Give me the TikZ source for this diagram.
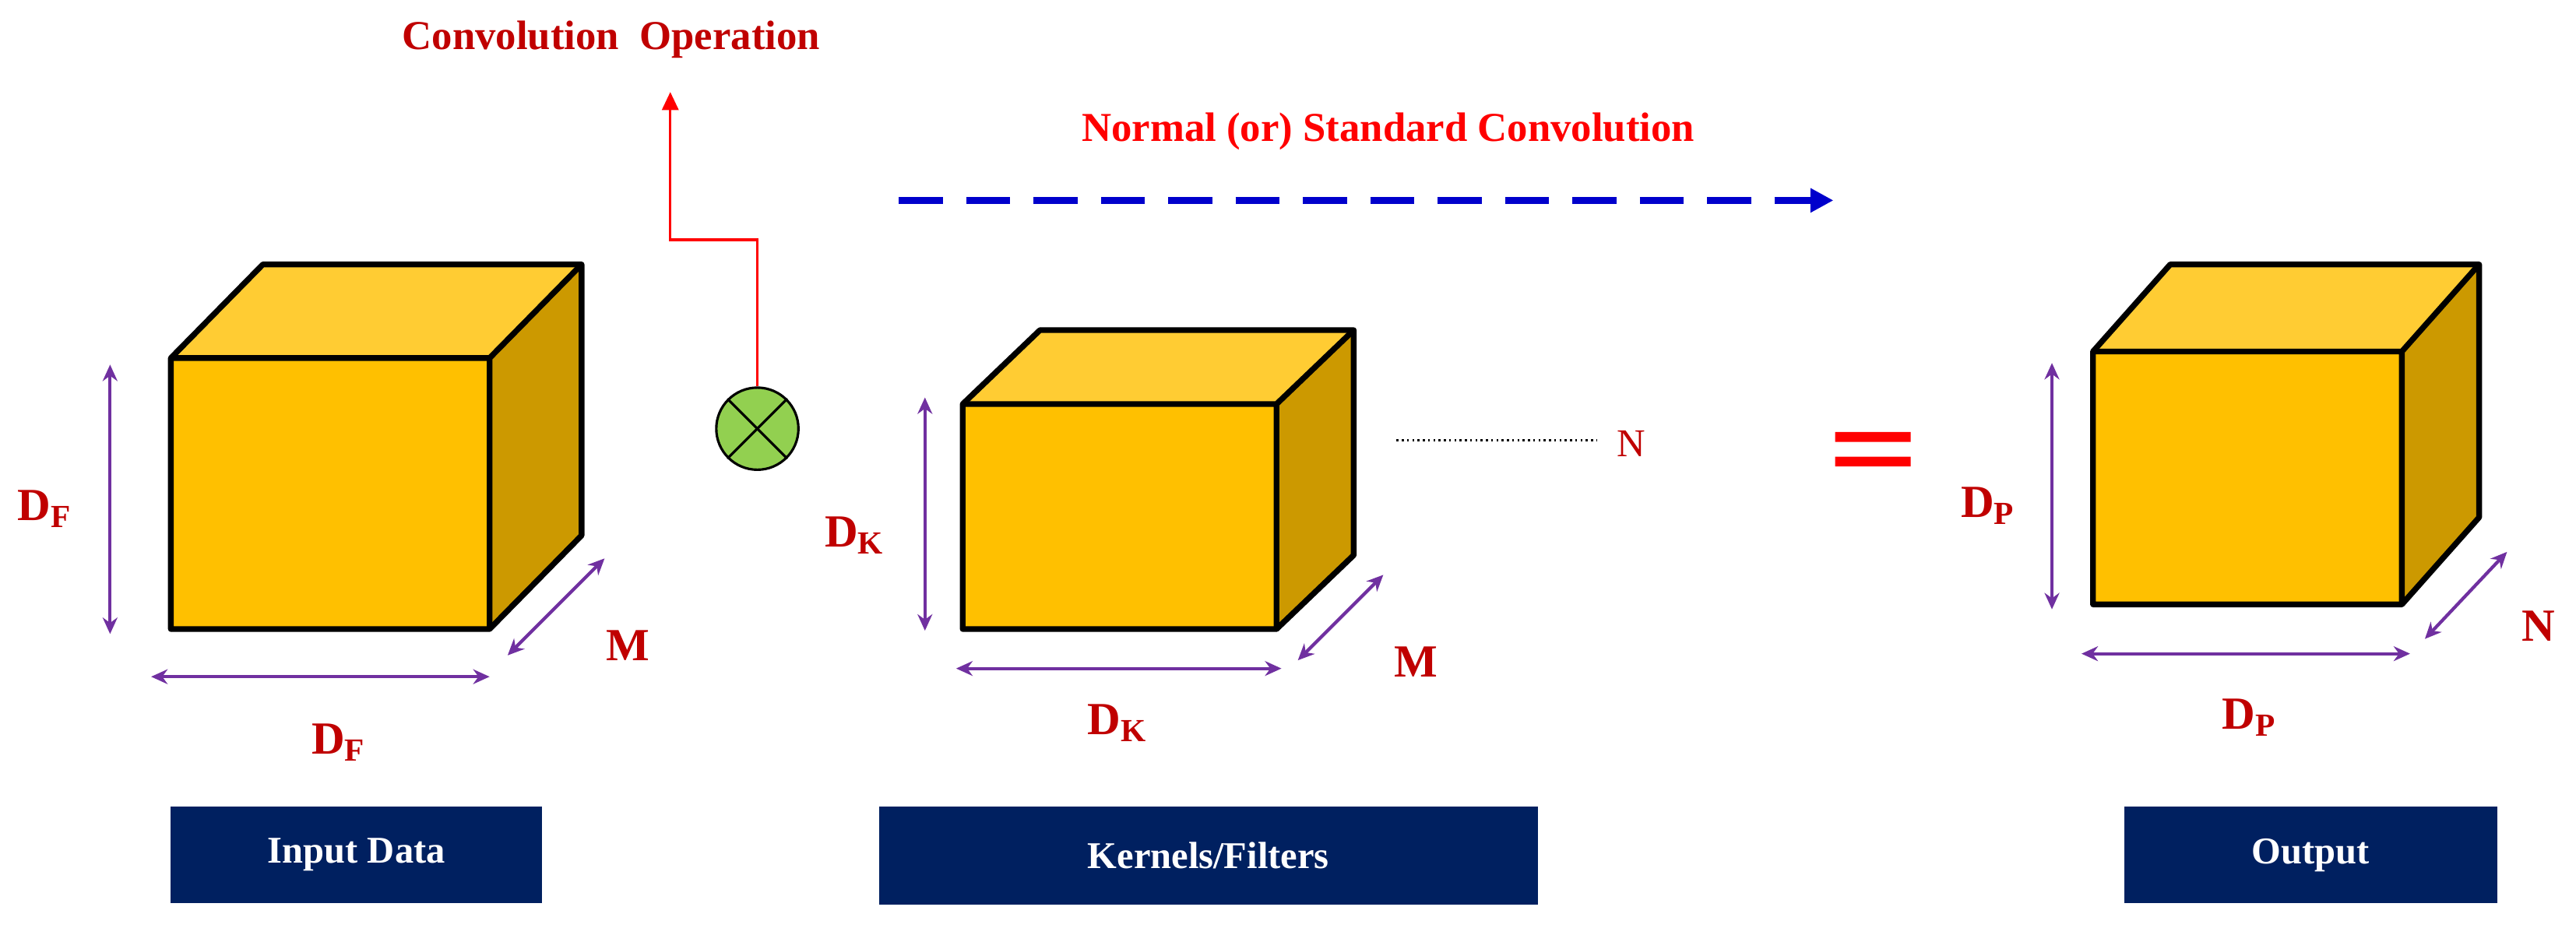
\documentclass[tikz,border=0pt]{standalone}
\usepackage{fontspec}
\setmainfont{Liberation Serif}
\usetikzlibrary{arrows.meta}
\definecolor{front}{HTML}{FFC000}
\definecolor{topc}{HTML}{FFCC33}
\definecolor{side}{HTML}{CC9900}
\definecolor{dred}{HTML}{C00000}
\definecolor{purp}{HTML}{7030A0}
\definecolor{navy}{HTML}{002060}
\definecolor{bblue}{HTML}{0000CC}
\tikzset{
 face/.style={draw=black,line width=3.5pt,line join=round},
 dimarr/.style={purp,line width=2pt,{Stealth[length=10pt,width=9pt]}-{Stealth[length=10pt,width=9pt]}},
 dimlab/.style={dred,font=\fontsize{28}{30}\selectfont\bfseries},
 navybox/.style={fill=navy,text=white,font=\fontsize{23}{26}\selectfont\bfseries,inner sep=0pt},
 ttl/.style={font=\fontsize{25}{28}\selectfont\bfseries}
}
\newcommand{\mycube}[6]{% x1 y1 x2 y2 dx dy
 \fill[topc] (#1,#2) -- (#1+#5,#2+#6) -- (#3+#5,#2+#6) -- (#3,#2) -- cycle;
 \fill[side] (#3,#2) -- (#3+#5,#2+#6) -- (#3+#5,#4+#6) -- (#3,#4) -- cycle;
 \fill[front] (#1,#2) rectangle (#3,#4);
 \draw[face] (#1,#2) -- (#1+#5,#2+#6) -- (#3+#5,#2+#6) -- (#3+#5,#4+#6) -- (#3,#4) -- (#1,#4) -- cycle;
 \draw[face] (#1,#2) -- (#3,#2) -- (#3,#4) (#3,#2) -- (#3+#5,#2+#6);
}
\begin{document}
\begin{tikzpicture}[x=1pt,y=-1pt]
\useasboundingbox[fill=white] (0,0) rectangle (1568,565);
% cubes
\mycube{104}{218}{298}{383}{56}{-57}
\mycube{586}{246}{777}{383}{47}{-45}
\mycube{1274}{214}{1462}{368}{47}{-53}
% input dims
\coordinate (a1) at (67,222); \coordinate (a2) at (67,386);
\draw[dimarr] (a1) -- (a2);
\node[dimlab] (l1) at (27,310) {D\textsubscript{F}};
\coordinate (b1) at (92,412); \coordinate (b2) at (298,412);
\draw[dimarr] (b1) -- (b2);
\node[dimlab] (l2) at (206,452) {D\textsubscript{F}};
\coordinate (c1) at (309,399); \coordinate (c2) at (368,340);
\draw[dimarr] (c1) -- (c2);
\node[dimlab] (l3) at (382,393) {M};
% kernel dims
\coordinate (d1) at (563,242); \coordinate (d2) at (563,384);
\draw[dimarr] (d1) -- (d2);
\node[dimlab] (l4) at (520,326) {D\textsubscript{K}};
\coordinate (e1) at (582,407); \coordinate (e2) at (780,407);
\draw[dimarr] (e1) -- (e2);
\node[dimlab] (l5) at (680,440) {D\textsubscript{K}};
\coordinate (f1) at (790,402); \coordinate (f2) at (842,350);
\draw[dimarr] (f1) -- (f2);
\node[dimlab] (l6) at (862,403) {M};
% output dims
\coordinate (g1) at (1249,221); \coordinate (g2) at (1249,371);
\draw[dimarr] (g1) -- (g2);
\node[dimlab] (l7) at (1210,308) {D\textsubscript{P}};
\coordinate (h1) at (1267,398); \coordinate (h2) at (1467,398);
\draw[dimarr] (h1) -- (h2);
\node[dimlab] (l8) at (1369,437) {D\textsubscript{P}};
\coordinate (i1) at (1476,389); \coordinate (i2) at (1526,336);
\draw[dimarr] (i1) -- (i2);
\node[dimlab] (l9) at (1545,381) {N};
% operator
\node[circle,draw=black,line width=1.5pt,fill={rgb,255:red,146;green,208;blue,80},minimum size=50pt,inner sep=0pt] (op) at (461,261) {};
\draw[line width=1.5pt] (op.north west) -- (op.south east) (op.north east) -- (op.south west);
\coordinate (r1) at (461,146); \coordinate (r2) at (408,146); \coordinate (r3) at (408,56);
\draw[red,line width=1.5pt,-{Triangle[length=11pt,width=10pt]}] (op.north) -- (r1) -- (r2) -- (r3);
\node[ttl,dred] (t1) at (372,24) {Convolution\ \ Operation};
\node[ttl,red] (t2) at (845,80) {Normal (or) Standard Convolution};
\coordinate (s1) at (547,122); \coordinate (s2) at (1116,122);
\draw[bblue,line width=4.5pt,dash pattern=on 27pt off 14pt,-{Triangle[length=14pt,width=14pt]}] (s1) -- (s2);
% dotted N
\coordinate (n1) at (850,268); \coordinate (n2) at (972,268);
\draw[line width=1.2pt,dotted] (n1) -- (n2);
\node[dimlab,font=\fontsize{24}{26}\selectfont] (nl) at (993,270) {N};
% equals
\fill[red] (1117,263) rectangle (1163,269) (1117,278) rectangle (1163,284);
% boxes
\node[navybox,minimum width=226pt,minimum height=59pt] (bx1) at (217,520.5) {Input Data};
\node[navybox,minimum width=401pt,minimum height=60pt] (bx2) at (735.5,521) {Kernels/Filters};
\node[navybox,minimum width=227pt,minimum height=59pt] (bx3) at (1406.5,520.5) {Output};
\end{tikzpicture}
\end{document}
